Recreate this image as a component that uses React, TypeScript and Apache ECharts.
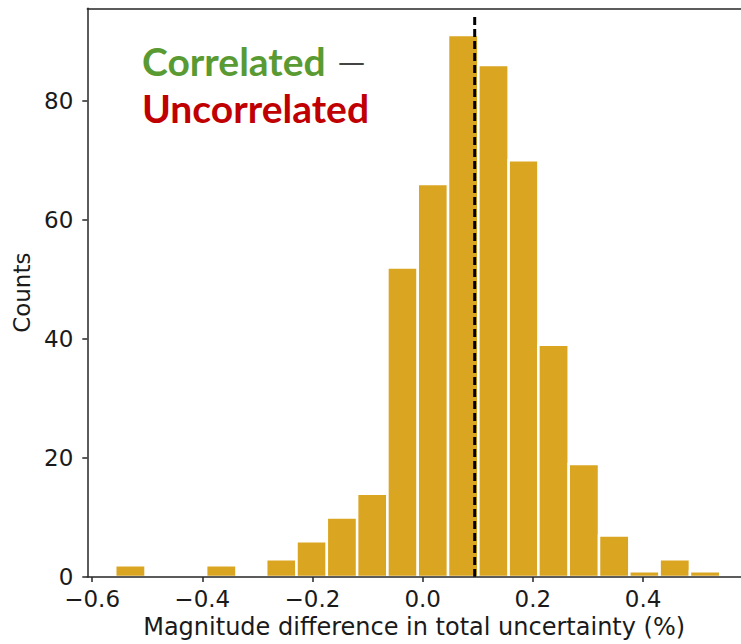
import React, { useEffect, useRef } from "react";
import * as echarts from "echarts";

// Histogram bin edges (21 edges -> 20 bins) and counts
const binEdges = [
  -0.558, -0.503, -0.448, -0.393, -0.338, -0.284, -0.229, -0.174, -0.119, -0.064,
  -0.009, 0.046, 0.101, 0.156, 0.21, 0.265, 0.32, 0.375, 0.43, 0.485, 0.54,
];
const counts = [2, 0, 0, 2, 0, 3, 6, 10, 14, 52, 66, 91, 86, 70, 39, 19, 7, 1, 3, 1];

// Dashed reference line (x position, vertical extent)
const refLineX = 0.0944;
const refLineTop = 94.6;

const xTicks = [-0.6, -0.4, -0.2, 0.0, 0.2, 0.4];
const yTicks = [0, 20, 40, 60, 80];

const xTitle = "Magnitude difference in total uncertainty (%)";
const yTitle = "Counts";
const noteTop = "Correlated";
const noteDash = "—";
const noteBottom = "Uncorrelated";

const X_MIN = -0.6087;
const X_MAX = 0.5777;
const Y_MIN = 0;
const Y_MAX = 95.5;

export default function App() {
  const ref = useRef<HTMLDivElement>(null);

  useEffect(() => {
    if (!ref.current) return;
    const chart = echarts.init(ref.current, undefined, { renderer: "svg" });

    const barData = counts
      .map((c, i) => [binEdges[i], binEdges[i + 1], c])
      .filter((d) => d[2] > 0);

    const fmt = (v: number) => (v < 0 ? "\u2212" : "") + Math.abs(v).toFixed(1);
    const axisColor = "#262626";
    const textColor = "#1a1a1a";

    chart.setOption({
      animation: false,
      backgroundColor: "#ffffff",
      grid: { left: 87.3, top: 8.3, right: 0, bottom: 66.3, containLabel: false },
      xAxis: [
        {
          type: "value",
          min: X_MIN,
          max: X_MAX,
          z: 5,
          name: xTitle,
          nameLocation: "middle",
          nameGap: 33,
          nameTextStyle: { fontFamily: "DejaVu Sans", fontSize: 24, color: textColor },
          axisLine: { show: true, onZero: false, lineStyle: { color: axisColor, width: 1.5 } },
          axisTick: {
            show: true,
            length: 5,
            customValues: xTicks,
            lineStyle: { color: axisColor, width: 1.5 },
          },
          axisLabel: {
            show: true,
            customValues: xTicks,
            formatter: fmt,
            margin: 10,
            fontFamily: "DejaVu Sans",
            fontSize: 23,
            color: textColor,
          },
          splitLine: { show: false },
        },
        {
          type: "value",
          position: "top",
          min: X_MIN,
          max: X_MAX,
          z: 5,
          axisLine: { show: true, onZero: false, lineStyle: { color: axisColor, width: 1.5 } },
          axisTick: { show: false },
          axisLabel: { show: false },
          splitLine: { show: false },
        },
      ],
      yAxis: {
        type: "value",
        min: Y_MIN,
        max: Y_MAX,
        z: 5,
        name: yTitle,
        nameLocation: "middle",
        nameGap: 52,
        nameTextStyle: { fontFamily: "DejaVu Sans", fontSize: 23, color: textColor },
        axisLine: { show: true, onZero: false, lineStyle: { color: axisColor, width: 1.5 } },
        axisTick: {
          show: true,
          length: 5,
          customValues: yTicks,
          lineStyle: { color: axisColor, width: 1.5 },
        },
        axisLabel: {
          show: true,
          customValues: yTicks,
          margin: 14,
          fontFamily: "DejaVu Sans",
          fontSize: 23,
          color: textColor,
        },
        splitLine: { show: false },
      },
      series: [
        {
          type: "custom",
          xAxisIndex: 0,
          yAxisIndex: 0,
          data: barData,
          encode: { x: [0, 1], y: 2 },
          renderItem: (params: any, api: any) => {
            const x0 = api.value(0);
            const x1 = api.value(1);
            const c = api.value(2);
            const p0 = api.coord([x0, c]);
            const p1 = api.coord([x1, 0]);
            return {
              type: "rect",
              shape: { x: p0[0], y: p0[1], width: p1[0] - p0[0], height: p1[1] - p0[1] },
              style: { fill: "#DAA520", stroke: "#ffffff", lineWidth: 2.5 },
            };
          },
          z: 2,
        },
        {
          type: "line",
          xAxisIndex: 0,
          yAxisIndex: 0,
          data: [
            [refLineX, 0],
            [refLineX, refLineTop],
          ],
          symbol: "none",
          lineStyle: { color: "#000000", width: 3, type: [8, 4] },
          z: 4,
        },
      ],
      graphic: [
        {
          type: "text",
          x: 142,
          y: 60.5,
          style: {
            text: noteTop,
            fill: "#5A9A32",
            font: "bold 39px Lato",
            verticalAlign: "middle",
            align: "left",
          },
        },
        {
          type: "text",
          x: 338,
          y: 61,
          style: {
            text: noteDash,
            fill: "#444444",
            font: "normal 27px 'DejaVu Sans'",
            verticalAlign: "middle",
            align: "left",
          },
        },
        {
          type: "text",
          x: 142,
          y: 108,
          style: {
            text: noteBottom,
            fill: "#C00000",
            font: "bold 39px Lato",
            verticalAlign: "middle",
            align: "left",
          },
        },
      ],
    });

    return () => chart.dispose();
  }, []);

  return (
    <div
      ref={ref}
      style={{ position: "fixed", left: 0, top: 0, width: 741, height: 644, background: "#fff" }}
    />
  );
}
